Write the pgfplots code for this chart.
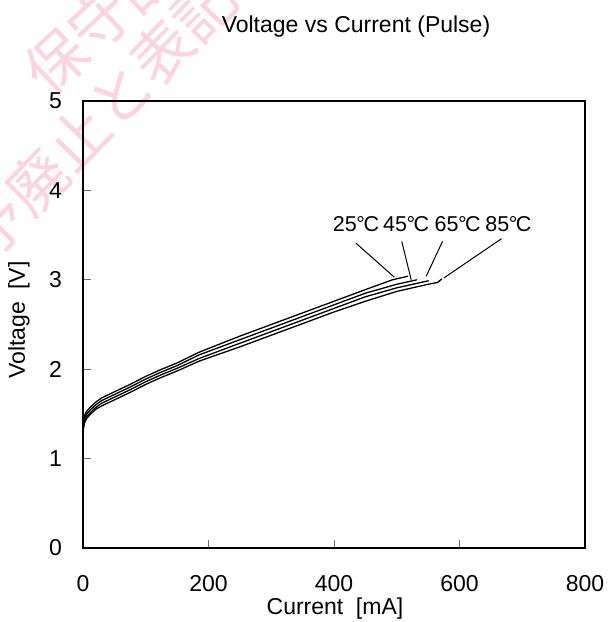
\documentclass[border=0pt]{standalone}
\usepackage{pgfplots}
\pgfplotsset{compat=1.18}
\usepackage{fontspec}
\setmainfont{Liberation Sans}
\newfontfamily\cjk{Noto Sans CJK JP}
\definecolor{wm}{RGB}{252,212,222}
\definecolor{tickgray}{RGB}{110,110,110}
\newcommand{\degC}{\kern-0.02em°\kern-0.07em C}

\pgfplotstableread{
I V
0 1.33
1 1.42
3 1.49
6 1.53
11 1.57
20 1.63
30 1.68
48 1.74
75 1.83
100 1.92
122 1.99
150 2.07
185 2.19
250 2.37
300 2.50
350 2.63
400 2.76
450 2.89
493 3.00
518 3.04
}\tA
\pgfplotstableread{
I V
0 1.31
1 1.39
3 1.46
6 1.50
11 1.54
20 1.60
30 1.65
48 1.71
75 1.80
100 1.89
122 1.96
150 2.04
185 2.16
250 2.33
300 2.46
350 2.59
400 2.72
450 2.85
500 2.95
532 3.00
}\tB
\pgfplotstableread{
I V
0 1.29
1 1.37
3 1.43
6 1.47
11 1.51
20 1.57
30 1.62
48 1.68
75 1.77
100 1.86
122 1.93
150 2.01
185 2.12
250 2.29
300 2.42
350 2.55
400 2.68
450 2.81
500 2.91
551 2.99
}\tC
\pgfplotstableread{
I V
0 1.27
1 1.35
3 1.41
6 1.45
11 1.49
20 1.55
30 1.59
48 1.65
75 1.74
100 1.83
122 1.90
150 1.98
185 2.09
250 2.25
300 2.38
350 2.51
400 2.64
450 2.76
500 2.87
550 2.95
565 2.97
572 3.01
}\tD

\begin{document}
\begin{tikzpicture}[font=\fontsize{23}{27}\selectfont]
\useasboundingbox (-83pt,-74pt) rectangle (526pt,548pt);
\begin{scope}
\clip (-83pt,-74pt) rectangle (526pt,548pt);
\node[text=wm, font=\cjk\fontsize{60}{64}\selectfont, rotate=43] at (17pt,528pt) {保守品};
\node[text=wm, font=\cjk\fontsize{60}{64}\selectfont, rotate=46] at (17pt,431pt) {予廃止と表記};
\end{scope}
\begin{axis}[
  at={(0pt,0pt)}, anchor=south west,
  width=502pt, height=447pt, scale only axis,
  xmin=0, xmax=800, ymin=0, ymax=5,
  xtick={0,200,400,600,800}, ytick={0,1,2,3,4,5},
  tick align=inside, xtick pos=bottom, ytick pos=left,
  major tick length=8pt,
  tick style={tickgray, line width=0.8pt},
  axis line style={line width=1.5pt},
  /pgf/number format/assume math mode=true,
  tick label style={font=\fontsize{23}{27}\selectfont},
  xticklabel style={anchor=base, yshift=-43.7pt},
  yticklabel style={anchor=east, inner sep=0pt, xshift=-21pt},
]
\addplot[black, line width=1.3pt] table[x=I, y=V] {\tA};
\addplot[black, line width=1.3pt] table[x=I, y=V] {\tB};
\addplot[black, line width=1.3pt] table[x=I, y=V] {\tC};
\addplot[black, line width=1.3pt] table[x=I, y=V] {\tD};
\addplot[black, line width=1pt] coordinates {(435,3.41) (496,3.03)};
\addplot[black, line width=1pt] coordinates {(508,3.43) (523,3.00)};
\addplot[black, line width=1pt] coordinates {(573,3.43) (547,3.04)};
\addplot[black, line width=1pt] coordinates {(667,3.46) (575,3.02)};
\node[anchor=base, inner sep=0pt, font=\fontsize{21.5}{25}\selectfont] at (axis cs:435,3.538) {25\degC};
\node[anchor=base, inner sep=0pt, font=\fontsize{21.5}{25}\selectfont] at (axis cs:515,3.538) {45\degC};
\node[anchor=base, inner sep=0pt, font=\fontsize{21.5}{25}\selectfont] at (axis cs:597,3.538) {65\degC};
\node[anchor=base, inner sep=0pt, font=\fontsize{21.5}{25}\selectfont] at (axis cs:678,3.538) {85\degC};
\end{axis}
\node[anchor=base] at (273pt,515.3pt) {Voltage vs Current (Pulse)};
\node[anchor=base] at (252pt,-66pt) {Current\hspace{0.55em}[mA]};
\node[rotate=90] at (-64pt,228pt) {Voltage\hspace{0.55em}[V]};
\end{tikzpicture}
\end{document}
